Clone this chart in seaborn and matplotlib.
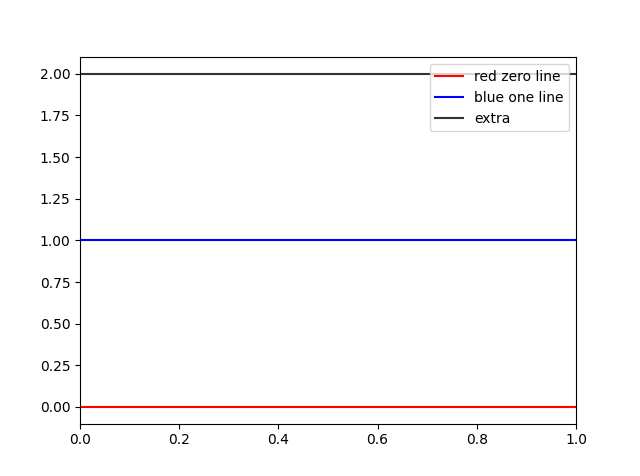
import pandas as pd
import seaborn as sns
import matplotlib.pyplot as plt

# Horizontal reference lines
labels = ['red zero line', 'blue one line', 'extra']
levels = [0, 1, 2]
colors = ['red', 'blue', '#333333']
x_span = [0, 1]

fig, ax = plt.subplots(figsize=(6.4, 4.76), dpi=100)

for label, level, color in zip(labels, levels, colors):
    df = pd.DataFrame({'x': x_span, 'y': [level] * len(x_span)})
    sns.lineplot(data=df, x='x', y='y', color=color, label=label, ax=ax)

ax.set_xlim(0, 1)
ax.set_xlabel('')
ax.set_ylabel('')
ax.legend(loc='upper right')

fig.savefig('out.png', dpi=100)
